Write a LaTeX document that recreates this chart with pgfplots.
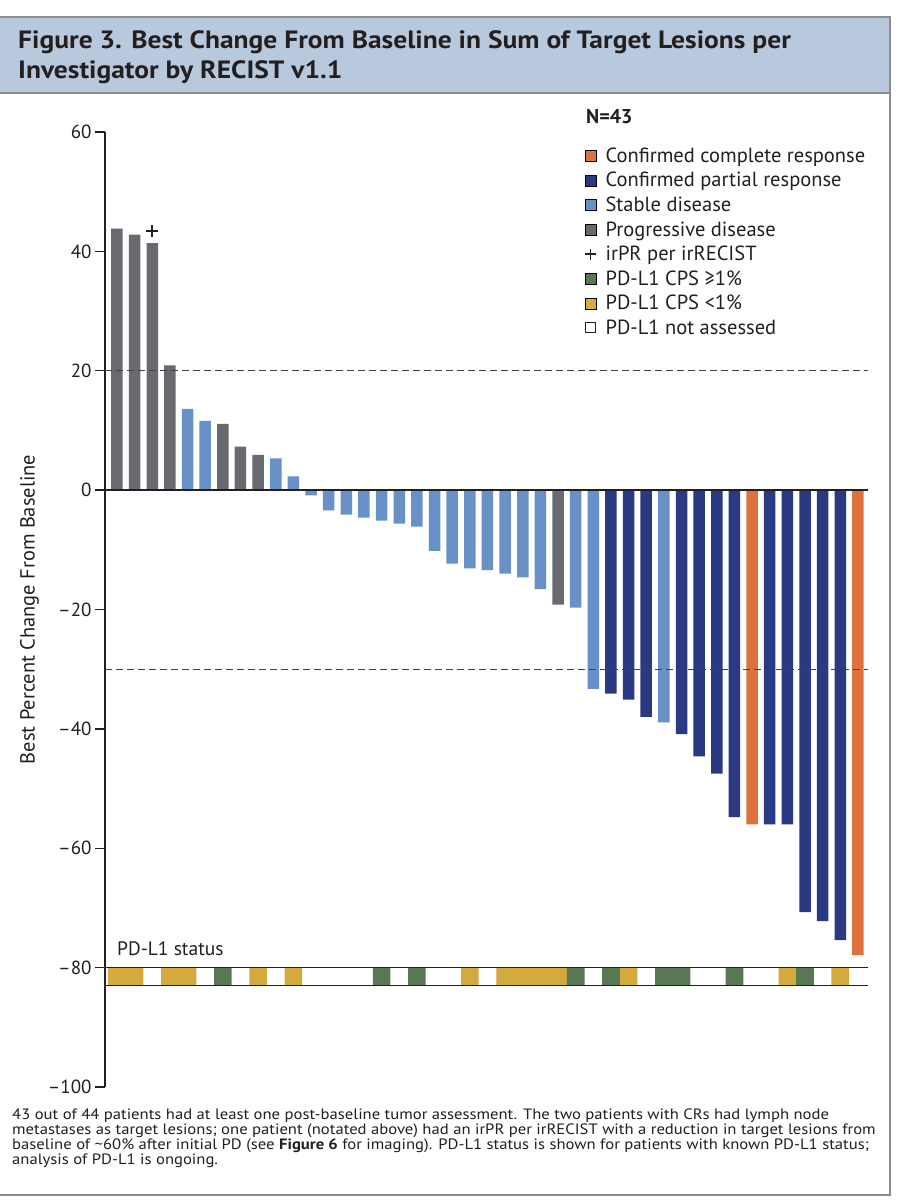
\documentclass[border=0pt]{standalone}
\usepackage{fontspec}
\setmainfont{PT Sans}
\newfontfamily\titlefont[FakeStretch=1.1]{PT Sans}
\newfontfamily\notefont[FakeStretch=1.11]{PT Sans}
\usepackage{pgfplots}
\pgfplotsset{compat=1.18}
\definecolor{orangeC}{RGB}{222,113,62}
\definecolor{darkblueC}{RGB}{43,57,130}
\definecolor{lightblueC}{RGB}{104,145,200}
\definecolor{grayC}{RGB}{105,105,112}
\definecolor{greenC}{RGB}{88,120,84}
\definecolor{yellowC}{RGB}{212,170,60}
\definecolor{titleC}{RGB}{185,201,221}
\definecolor{frameC}{RGB}{140,140,140}
\definecolor{textC}{RGB}{35,31,32}
\pgfplotsset{
  sqleg/.style={legend image code/.code={\fill[##1] (0pt,-5.5pt) rectangle (11pt,5.5pt);}},
  plusleg/.style={legend image code/.code={\draw[textC,line width=1.2pt] (5.5pt,-5.5pt)--(5.5pt,5.5pt) (0pt,0pt)--(11pt,0pt);}},
  openleg/.style={legend image code/.code={\draw[textC,line width=1pt,fill=white] (0.5pt,-5pt) rectangle (10.5pt,5pt);}},
}
\begin{document}
\begin{tikzpicture}[x=1pt,y=1pt]
\useasboundingbox (0,0) rectangle (917,1200);
\fill[white] (0,0) rectangle (917,1200);
% frame
\draw[frameC, line width=1.6pt] (-5,1183) -- (890,1183) -- (890,5) -- (-5,5);
\filldraw[fill=titleC, draw=frameC, line width=1.6pt] (-5,1183) rectangle (890,1107);
\node[anchor=base west, inner sep=0pt, text=textC, font=\titlefont\bfseries\fontsize{25}{30}\selectfont] at (18,1151) {Figure 3. Best Change From Baseline in Sum of Target Lesions per};
\node[anchor=base west, inner sep=0pt, text=textC, font=\titlefont\bfseries\fontsize{25}{30}\selectfont] at (18,1121) {Investigator by RECIST v1.1};
% footnote
\begin{scope}[every node/.style={anchor=base west, inner sep=0pt, text=textC, font=\notefont\fontsize{15}{15}\selectfont}]
\node at (12,80.7) {43 out of 44 patients had at least one post-baseline tumor assessment. The two patients with CRs had lymph node};
\node at (12,65.7) {metastases as target lesions; one patient (notated above) had an irPR per irRECIST with a reduction in target lesions from};
\node at (12,50.7) {baseline of \textasciitilde60\% after initial PD (see \textbf{Figure 6} for imaging). PD-L1 status is shown for patients with known PD-L1 status;};
\node at (12,35.7) {analysis of PD-L1 is ongoing.};
\end{scope}
\node[anchor=base west, inner sep=0pt, text=textC, font=\bfseries\fontsize{20}{24}\selectfont] at (586,1076) {N=43};
\begin{axis}[
  at={(105pt,113pt)}, anchor=south west,
  scale only axis, width=763pt, height=955pt,
  xmin=0.32, xmax=43.57, ymin=-100, ymax=60,
  clip=false,
  axis x line=none,
  axis y line=left,
  axis line style={-, line width=1.4pt, textC},
  ytick={-100,-80,-60,-40,-20,0,20,40,60},
  yticklabels={\textendash100,\textendash80,\textendash60,\textendash40,\textendash20,0,20,40,60},
  tick align=outside,
  major tick length=10pt,
  tick style={line width=1.4pt, textC},
  yticklabel style={font=\fontsize{19}{22}\selectfont, text=textC},
  ylabel={Best Percent Change From Baseline},
  ylabel style={font=\fontsize{20.4}{24}\selectfont, text=textC, at={(axis description cs:-0.082,0.5)}, anchor=south},
  legend style={draw=none, fill=none, at={(axis description cs:0.628,0.985)}, anchor=north west,
     font=\fontsize{20.5}{21}\selectfont, text=textC, row sep=6.4pt, column sep=8pt,
     inner sep=0pt, nodes={inner sep=1pt}},
  legend cell align=left,
]
% PD-L1 strip
\addplot[fill=yellowC, draw=none, unbounded coords=jump, forget plot] coordinates {
(0.5,-83)(0.5,-80)(2.5,-80)(2.5,-83)(2.5,nan)
(3.5,-83)(3.5,-80)(5.5,-80)(5.5,-83)(5.5,nan)
(8.5,-83)(8.5,-80)(9.5,-80)(9.5,-83)(9.5,nan)
(10.5,-83)(10.5,-80)(11.5,-80)(11.5,-83)(11.5,nan)
(20.5,-83)(20.5,-80)(21.5,-80)(21.5,-83)(21.5,nan)
(22.5,-83)(22.5,-80)(26.5,-80)(26.5,-83)(26.5,nan)
(29.5,-83)(29.5,-80)(30.5,-80)(30.5,-83)(30.5,nan)
(38.5,-83)(38.5,-80)(39.5,-80)(39.5,-83)(39.5,nan)
(41.5,-83)(41.5,-80)(42.5,-80)(42.5,-83)
};
\addplot[fill=greenC, draw=none, unbounded coords=jump, forget plot] coordinates {
(6.5,-83)(6.5,-80)(7.5,-80)(7.5,-83)(7.5,nan)
(15.5,-83)(15.5,-80)(16.5,-80)(16.5,-83)(16.5,nan)
(17.5,-83)(17.5,-80)(18.5,-80)(18.5,-83)(18.5,nan)
(26.5,-83)(26.5,-80)(27.5,-80)(27.5,-83)(27.5,nan)
(28.5,-83)(28.5,-80)(29.5,-80)(29.5,-83)(29.5,nan)
(31.5,-83)(31.5,-80)(33.5,-80)(33.5,-83)(33.5,nan)
(35.5,-83)(35.5,-80)(36.5,-80)(36.5,-83)(36.5,nan)
(39.5,-83)(39.5,-80)(40.5,-80)(40.5,-83)
};
\addplot[textC, line width=1.3pt, forget plot] coordinates {(0.32,-80)(43.57,-80)};
\addplot[textC, line width=1.3pt, forget plot] coordinates {(0.32,-83)(43.57,-83)};
% bars
\addplot[ybar, bar width=11.5pt, bar shift=0pt, fill=grayC, draw=none, forget plot] coordinates {
(1,43.8)(2,42.8)(3,41.4)(4,20.9)(7,11.1)(8,7.3)(9,5.9)(26,-19.2)};
\addplot[ybar, bar width=11.5pt, bar shift=0pt, fill=lightblueC, draw=none, forget plot] coordinates {
(5,13.6)(6,11.6)(10,5.3)(11,2.3)(12,-0.9)(13,-3.4)(14,-4.1)(15,-4.6)(16,-5.1)(17,-5.6)(18,-6.1)
(19,-10.2)(20,-12.3)(21,-13.1)(22,-13.4)(23,-14.0)(24,-14.6)(25,-16.6)(27,-19.7)(28,-33.3)(32,-38.9)};
\addplot[ybar, bar width=11.5pt, bar shift=0pt, fill=darkblueC, draw=none, forget plot] coordinates {
(29,-34.1)(30,-35.1)(31,-38.0)(33,-40.9)(34,-44.6)(35,-47.5)(36,-54.8)(38,-56.0)(39,-56.0)(40,-70.7)(41,-72.2)(42,-75.4)};
\addplot[ybar, bar width=11.5pt, bar shift=0pt, fill=orangeC, draw=none, forget plot] coordinates {
(37,-56.0)(43,-77.9)};
% reference lines
\addplot[textC, line width=1.3pt, forget plot] coordinates {(0.32,0)(43.57,0)};
\addplot[textC!85, line width=1.2pt, dash pattern=on 7pt off 4pt, forget plot] coordinates {(0.32,20)(43.57,20)};
\addplot[textC!85, line width=1.2pt, dash pattern=on 7pt off 4pt, forget plot] coordinates {(0.32,-30)(43.57,-30)};
% irPR marker
\addplot[only marks, mark=+, mark size=6pt, line width=2pt, textC, forget plot] coordinates {(3,43.4)};
\node[anchor=base west, inner sep=0pt, text=textC, font=\fontsize{19.5}{23}\selectfont] at (axis cs:1.0,-77.9) {PD-L1 status};
% legend
\addlegendimage{sqleg, fill=orangeC}
\addlegendentry{\strut Confirmed complete response}
\addlegendimage{sqleg, fill=darkblueC}
\addlegendentry{\strut Confirmed partial response}
\addlegendimage{sqleg, fill=lightblueC}
\addlegendentry{\strut Stable disease}
\addlegendimage{sqleg, fill=grayC}
\addlegendentry{\strut Progressive disease}
\addlegendimage{plusleg}
\addlegendentry{\strut irPR per irRECIST}
\addlegendimage{sqleg, fill=greenC}
\addlegendentry{\strut PD-L1 CPS ≥1\%}
\addlegendimage{sqleg, fill=yellowC}
\addlegendentry{\strut PD-L1 CPS <1\%}
\addlegendimage{openleg}
\addlegendentry{\strut PD-L1 not assessed}
\end{axis}
\end{tikzpicture}
\end{document}
